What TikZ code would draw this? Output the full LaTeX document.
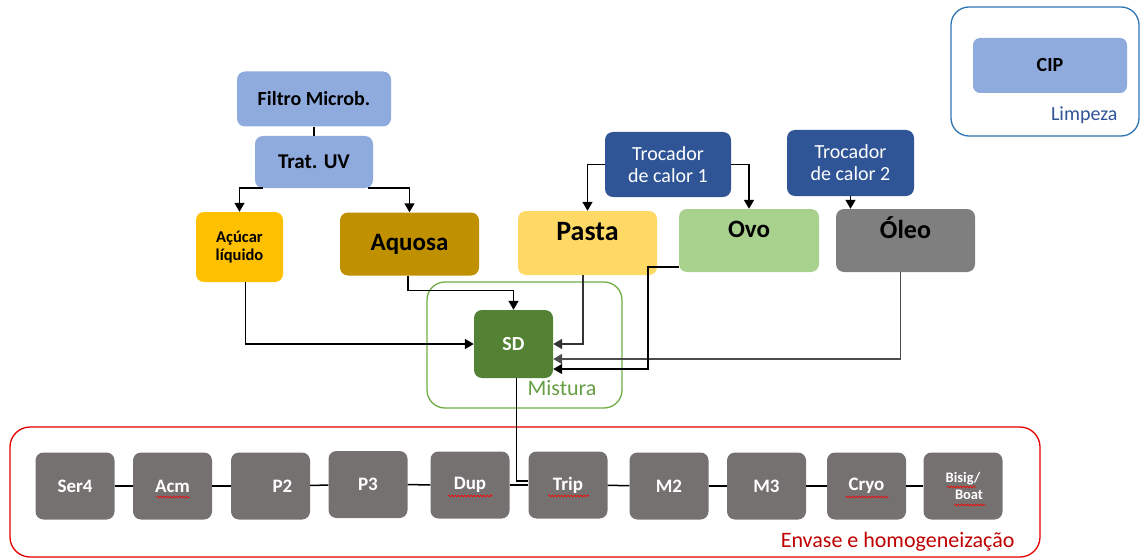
\documentclass[tikz,border=0pt]{standalone}
\usepackage{fontspec}
\setmainfont{Carlito}
\usetikzlibrary{arrows.meta,decorations.pathmorphing}

\definecolor{lightblue}{HTML}{8FAADC}
\definecolor{darkblue}{HTML}{2F5597}
\definecolor{lineblue}{HTML}{2E75B6}
\definecolor{sugar}{HTML}{FFC000}
\definecolor{aqua}{HTML}{BF9000}
\definecolor{paste}{HTML}{FFD966}
\definecolor{egg}{HTML}{A9D18E}
\definecolor{oil}{HTML}{7F7F7F}
\definecolor{mixgreen}{HTML}{548235}
\definecolor{mixline}{HTML}{70AD47}
\definecolor{mixtext}{HTML}{659E45}
\definecolor{procgray}{HTML}{767171}
\definecolor{grpred}{HTML}{E00000}
\definecolor{txtred}{HTML}{C00000}

\newcommand{\fs}[1]{\fontsize{#1}{#1}\selectfont}

\tikzset{
  box/.style={rounded corners=8pt, inner sep=0pt, align=center, draw=none},
  proc/.style={box, fill=procgray, minimum width=79pt, minimum height=67pt,
               text=white, font=\fs{19}\bfseries},
  link/.style={draw=black, line width=1.5pt},
  arr/.style={link, -{Triangle[length=9pt,width=10pt]}},
  group/.style={rounded corners=18pt, line width=1.3pt},
  spell/.style={draw=red, line width=0.6pt, decorate,
                decoration={snake, amplitude=1pt, segment length=3.2pt}},
}

\begin{document}
\begin{tikzpicture}[x=1pt,y=-1pt]
\useasboundingbox (0,0) rectangle (1143,559);

% group frames
\draw[group, draw=lineblue] (951,7) rectangle (1139,136);
\draw[group, draw=mixline] (427,282) rectangle (622,408);
\draw[group, draw=grpred, rounded corners=20pt] (10,427) rectangle (1040,557);

% cleaning
\node[box, fill=lightblue, rounded corners=7pt, minimum width=154pt, minimum height=55pt,
      font=\fs{20}\bfseries] (cip) at (1050,65.5) {CIP};
\node[anchor=east, text=darkblue, font=\fs{20}] (limpeza) at (1121,115) {Limpeza};

% water treatment
\node[box, fill=lightblue, minimum width=154pt, minimum height=55pt,
      font=\fs{20}\bfseries] (filtro) at (314,99) {Filtro Microb.};
\node[box, fill=lightblue, minimum width=118pt, minimum height=52pt,
      font=\fs{21}\bfseries] (trat) at (314,162) {Trat. UV};

% heat exchangers
\node[box, fill=darkblue, minimum width=126pt, minimum height=65pt, text=white,
      font=\fs{20}] (troc1) at (668,164.5) {Trocador\\[2pt]de calor 1};
\node[box, fill=darkblue, minimum width=127pt, minimum height=66pt, text=white,
      font=\fs{20}] (troc2) at (850.5,163) {Trocador\\[2pt]de calor 2};

% ingredients
\node[box, fill=sugar, minimum width=87pt, minimum height=70pt,
      font=\fs{16.5}\bfseries] (acucar) at (239.5,247) {Açúcar\\[2pt]líquido};
\node[box, fill=aqua, minimum width=139pt, minimum height=63pt,
      font=\fs{25}\bfseries] (aquosa) at (409.5,244) {Aquosa};
\node[box, fill=paste, minimum width=139pt, minimum height=64pt] (pasta) at (587.5,243) {};
\node[font=\fs{28}\bfseries] (pastaT) at (587.5,232) {Pasta};
\node[box, fill=egg, minimum width=140pt, minimum height=63pt] (ovo) at (749,240.5) {};
\node[font=\fs{25}\bfseries] (ovoT) at (749,229) {Ovo};
\node[box, fill=oil, minimum width=139pt, minimum height=63pt] (oleo) at (905.5,240.5) {};
\node[font=\fs{26}\bfseries] (oleoT) at (905.5,228) {Óleo};

% mixing
\node[box, fill=mixgreen, minimum width=79pt, minimum height=68pt, text=white,
      font=\fs{20}\bfseries] (sd) at (513.5,344) {SD};
\node[text=mixtext, font=\fs{22}] (mistura) at (562,388) {Mistura};

% filling and homogenisation line
\node[proc] (ser4)  at (75,486)    {Ser4};
\node[proc] (acm)   at (172.5,486) {Acm};
\node[proc] (p2)    at (270.5,486) {\hspace*{24pt}P2};
\node[proc] (p3)    at (368,484.5) {P3};
\node[proc] (dup)   at (470,485)   {Dup};
\node[proc] (trip)  at (568,485)   {Trip};
\node[proc] (m2)    at (669,486)   {M2};
\node[proc] (m3)    at (766.5,486) {M3};
\node[proc] (cryo)  at (866.5,486) {Cryo};
\node[proc, font=\fs{14.5}\bfseries] (bisig) at (963,486) {Bisig/\\[2pt]\hspace*{12pt}Boat};
\node[anchor=east, text=txtred, font=\fs{22}] (envase) at (1018,542) {Envase e homogeneização};

% spell-check marks under the line labels
\draw[spell] ([shift={(-16,11)}]acm.center) -- ++(33,0);
\draw[spell] ([shift={(-22,11)}]dup.center) -- ++(45,0);
\draw[spell] ([shift={(-20,11)}]trip.center) -- ++(41,0);
\draw[spell] ([shift={(-21,11)}]cryo.center) -- ++(43,0);
\draw[spell] ([shift={(-16,1)}]bisig.center) -- ++(29,0);
\draw[spell] ([shift={(-9,19)}]bisig.center) -- ++(31,0);

% water treatment connections
\draw[link] (filtro.south) -- (trat.north);
\draw[arr] ([xshift=8pt]trat.south west) -| (acucar.north);
\draw[arr] ([xshift=-5pt]trat.south east) -| (aquosa.north);

% heat exchanger connections
\draw[arr] (troc1.west) -| (pasta.north);
\draw[arr] (troc1.east) -| (ovo.north);
\draw[arr] (troc2.south) -- (troc2.south |- oleo.north);

% feeds into the mixer
\draw[arr] ([xshift=6pt]acucar.south) |- (sd.west);
\draw[arr] ([xshift=-1.5pt]aquosa.south) -- ++(0,15) -| (sd.north);
\draw[arr, draw=black!80] ([xshift=-4.5pt]pasta.south) |- (sd.east);
\draw[arr, draw=black!70, line width=1.9pt] ([xshift=-5pt]oleo.south) |- ([yshift=-15pt]sd.east);
\draw[arr] ([yshift=5pt]ovo.south west) -- ++(-31,0) |- ([yshift=-25pt]sd.east);

% mixer to filling line
\draw[link] ([xshift=3pt]sd.south) |- ([yshift=4pt]trip.west);

% filling line chain
\draw[link] (ser4) -- (acm);
\draw[link] (acm) -- (p2);
\draw[link] (p2) -- (p3);
\draw[link] (p3) -- (dup);
\draw[link] (dup) -- (trip);
\draw[link] (trip) -- (m2);
\draw[link] (m2) -- (m3);
\draw[link] (m3) -- (cryo);
\draw[link] (cryo) -- (bisig);
\end{tikzpicture}
\end{document}
